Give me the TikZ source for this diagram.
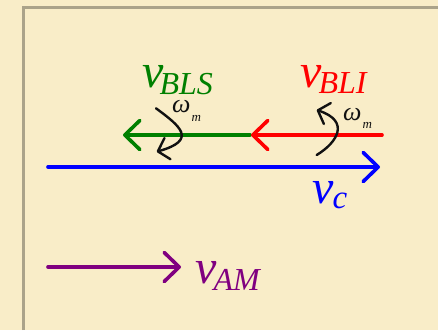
\documentclass[tikz,border=0pt]{standalone}
\usepackage{fontspec}
\setmainfont{Liberation Serif}
\usetikzlibrary{arrows.meta}
\definecolor{bgc}{HTML}{F9EDC8}
\definecolor{framec}{HTML}{ABA38A}
\definecolor{vgreen}{HTML}{008000}
\definecolor{vred}{HTML}{FF0000}
\definecolor{vblue}{HTML}{0000FF}
\definecolor{vpurple}{HTML}{800080}
\definecolor{wblack}{HTML}{111111}
\tikzset{
  vec/.style={line width=3.6pt, line cap=round, -{Straight Barb[length=15pt,width=29pt,round]}},
  rot/.style={wblack, line width=2.4pt, line cap=round, -{Straight Barb[length=10pt,width=22pt,round]}},
  lbl/.style={inner sep=0pt, anchor=base west},
}
\newcommand\vbigf{\fontsize{48}{48}\selectfont\itshape}
\newcommand\vsubf{\fontsize{32}{32}\selectfont\itshape}
\newcommand\wbigf{\fontsize{26}{26}\selectfont\itshape}
\newcommand\wsubf{\fontsize{13}{13}\selectfont\itshape}
\begin{document}
\begin{tikzpicture}[x=1pt,y=-1pt]
\fill[bgc] (0,0) rectangle (438,330);
\useasboundingbox (0,0) rectangle (438,330);
\draw[framec, line width=3pt] (23.5,330) -- (23.5,7.5) -- (438,7.5);

% coordinates of vector ends
\coordinate (c0) at (48,167);
\coordinate (c1) at (380,167);
\coordinate (g0) at (250,135);
\coordinate (g1) at (123,135);
\coordinate (r0) at (382,135);
\coordinate (r1) at (251,135);
\coordinate (a0) at (48,267);
\coordinate (a1) at (181,267);
\coordinate (ls) at (156,108.3);
\coordinate (le) at (156.7,151.7);
\coordinate (rs) at (316.7,155);
\coordinate (re) at (316.7,110);

\draw[vec, vblue] (c0) -- (c1);
\draw[vec, vgreen] (g0) -- (g1);
\draw[vec, vred] (r0) -- (r1);
\draw[vec, vpurple] (a0) -- (a1);

\draw[rot] (ls) .. controls (180,126) and (198,140) .. (le);
\draw[rot] (rs) .. controls (338,142) and (350,121) .. (re);

\node[lbl, vgreen] (lbls) at (142,87) {{\vbigf v}\kern-4pt\raisebox{-7pt}{\vsubf BLS}};
\node[lbl, vred] (lbli) at (300,87) {{\vbigf v}\kern-3pt\raisebox{-6pt}{\vsubf BLI}};
\node[lbl, vblue] (lc) at (312,203) {{\vbigf v}\kern-1pt\raisebox{-5pt}{\fontsize{33}{33}\selectfont\itshape c}};
\node[lbl, vpurple] (lam) at (195,283) {{\vbigf v}\kern-3pt\raisebox{-7pt}{\vsubf AM}};
\node[lbl, wblack] (wl) at (172,112) {{\wbigf ω}\kern1pt\raisebox{-9pt}{\wsubf m}};
\node[lbl, wblack] (wr) at (343,120) {{\wbigf ω}\kern1pt\raisebox{-8pt}{\wsubf m}};
\end{tikzpicture}
\end{document}
